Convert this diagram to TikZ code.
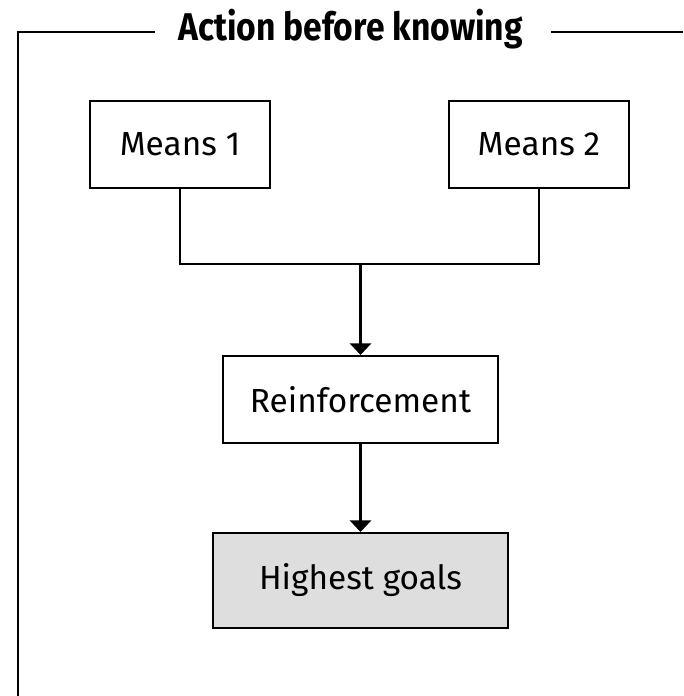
\documentclass[tikz,border=0pt]{standalone}
\usepackage{fontspec}
\setmainfont{Fira Sans}
\newfontfamily\titlefont[FakeStretch=0.87]{Fira Sans}
\usepackage{xcolor}
\usetikzlibrary{arrows.meta}
\definecolor{goalgray}{HTML}{DDDEDD}
\tikzset{
  box/.style = {draw, black, line width = .4mm, fill = white, minimum width = 3.6cm, minimum height = 1.74cm, font = \fontsize{19}{22}\selectfont},
  link/.style = {black, line width = .45mm},
  frameline/.style = {black, line width = .45mm},
}

\begin{document}
\begin{tikzpicture}
        \useasboundingbox (0, 0) rectangle (13.66, 13.92);
        % open frame round the diagram
        \draw[frameline] (0.36, 0) -- (0.36, 13.28) -- (3.10, 13.28);
        \draw[frameline] (11.02, 13.28) -- (13.66, 13.28);
        \node[black, anchor = base, font = \titlefont\fontsize{22}{26}\selectfont\bfseries] (title) at (7.01, 13.10) {Action before knowing};
        % boxes
        \node[box] (means1) at (3.60, 11.03) {Means 1};
        \node[box] (means2) at (10.78, 11.03) {Means 2};
        \node[box, minimum width = 5.5cm] (reinf) at (7.21, 5.93) {Reinforcement};
        \node[box, minimum width = 5.9cm, minimum height = 1.9cm, fill = goalgray] (goals) at (7.21, 2.31) {Highest goals};
        % connectors
        \coordinate (join) at (7.21, 8.64);
        \draw[link] (means1.south) |- (join) -| (means2.south);
        \draw[link, -{Triangle[width = 4.2mm, length = 2.3mm]}] (join) -- (reinf.north);
        \draw[link, -{Triangle[width = 4.2mm, length = 2.3mm]}] (reinf.south) -- (goals.north);
\end{tikzpicture}
\end{document}
